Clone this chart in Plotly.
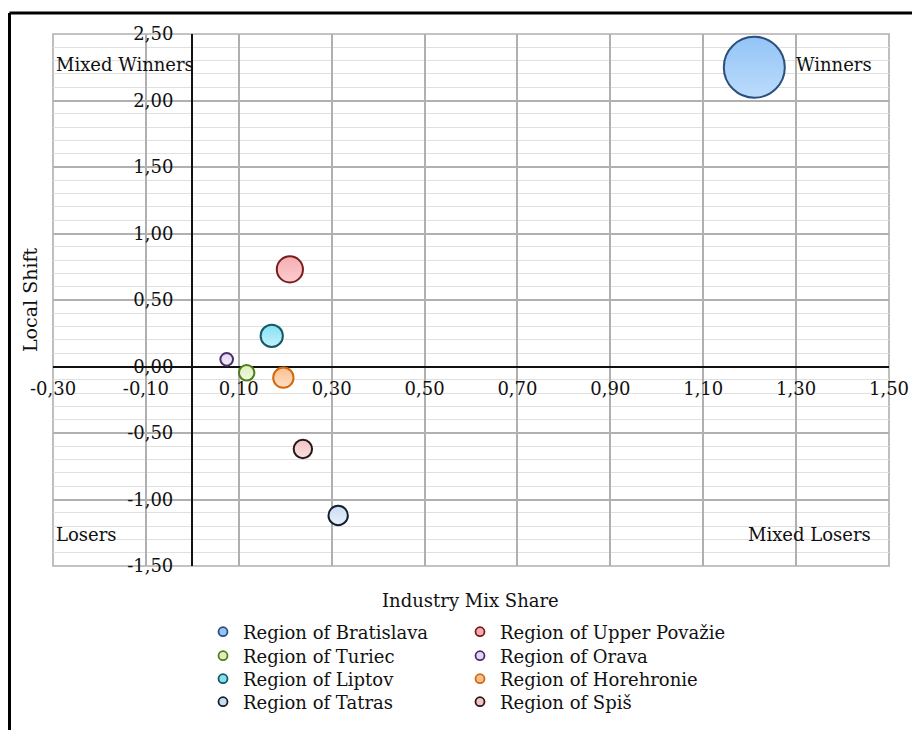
import plotly.graph_objects as go

# ---- data ----
regions = ["Region of Bratislava", "Region of Upper Považie", "Region of Turiec",
           "Region of Orava", "Region of Liptov", "Region of Horehronie",
           "Region of Tatras", "Region of Spiš"]
industry_mix = [1.21, 0.21, 0.117, 0.074, 0.171, 0.196, 0.314, 0.238]
local_shift = [2.25, 0.73, -0.047, 0.054, 0.23, -0.084, -1.12, -0.62]
bubble_size = [100, 18.4, 6.4, 4.3, 13.3, 11.1, 10.1, 9.1]

x_tick_vals = [-0.3, -0.1, 0.1, 0.3, 0.5, 0.7, 0.9, 1.1, 1.3, 1.5]
x_tick_text = ["-0,30", "-0,10", "0,10", "0,30", "0,50", "0,70", "0,90", "1,10", "1,30", "1,50"]
y_tick_vals = [2.5, 2.0, 1.5, 1.0, 0.5, 0.0, -0.5, -1.0, -1.5]
y_tick_text = ["2,50", "2,00", "1,50", "1,00", "0,50", "0,00", "-0,50", "-1,00", "-1,50"]

# ---- styles ----
fill_top = ["#93c4f6", "#f5aeb1", "#dcefbd", "#e6d6ee", "#86e0f2", "#fcbf8e", "#cbddf2", "#f3c4c5"]
fill_bot = ["#bcdcfc", "#fccdd0", "#f0fadf", "#f3ecf8", "#c2f2fb", "#fee0c4", "#e6f0fb", "#fae0e0"]
outline = ["#2b4f7e", "#7a1c1c", "#4f7f1a", "#4a2e6e", "#125a66", "#d2680f", "#14202e", "#2a1818"]
# legend slot (column, row) per region, in page pixels
legend_col_x = [203, 460]
legend_row_y = [632, 656, 679, 702]
legend_slot = [(0, 0), (1, 0), (0, 1), (1, 1), (0, 2), (1, 2), (0, 3), (1, 3)]

FONT = "DejaVu Serif"
TXT = "#111111"
MAX_D = 61
sizeref = 2.0 * max(bubble_size) / (MAX_D ** 2)

W, H = 920, 730
OFF = 8  # page offset of the figure inside the browser window
L, R, T, B = 53 - OFF, W - (889 - OFF), 34 - OFF, H - (566 - OFF)
pw, ph = W - L - R, H - T - B

def px_x(p):
    return (p - OFF - L) / pw

def px_y(p):
    return (H - B - (p - OFF)) / ph

def cx(p):
    return (p - OFF) / W

def cy(p):
    return 1 - (p - OFF) / H

fig = go.Figure()
for i, name in enumerate(regions):
    fig.add_trace(go.Scatter(
        x=[industry_mix[i]], y=[local_shift[i]], mode="markers", name=name,
        legendgroup=name, showlegend=False,
        marker=dict(size=[bubble_size[i]], sizemode="area", sizeref=sizeref,
                    color=fill_top[i],
                    gradient=dict(type="vertical", color=fill_bot[i]),
                    line=dict(color=outline[i], width=2), opacity=1),
        hoverinfo="name+x+y",
    ))

tickfont = dict(family=FONT, size=18, color=TXT)
legfont = dict(family=FONT, size=18, color=TXT)

legends = {}
for i, name in enumerate(regions):
    key = "legend" if i == 0 else f"legend{i + 1}"
    fig.add_trace(go.Scatter(
        x=[None], y=[None], mode="markers", name=name, legendgroup=name,
        legend=key, showlegend=True,
        marker=dict(size=9, color=fill_top[i], line=dict(color=outline[i], width=1.8)),
    ))
    c, r = legend_slot[i]
    legends[key] = dict(x=cx(legend_col_x[c]), y=cy(legend_row_y[r] - 18.5),
                        xref="container", yref="container",
                        xanchor="left", yanchor="top", orientation="v",
                        bgcolor="rgba(0,0,0,0)", borderwidth=0, font=legfont)

fig.update_layout(
    width=W, height=H,
    margin=dict(l=L, r=R, t=T, b=B, pad=0, autoexpand=False),
    paper_bgcolor="white", plot_bgcolor="white",
    font=dict(family=FONT, size=18, color=TXT),
    xaxis=dict(range=[-0.3, 1.5], tickmode="array", tickvals=x_tick_vals, ticktext=x_tick_text,
               showgrid=True, gridcolor="#b0b0b0", gridwidth=1.6,
               zeroline=True, zerolinecolor="#111111", zerolinewidth=2,
               showline=False, ticks="", anchor="free", position=1.5 / 4.0,
               tickfont=tickfont, ticklabelstandoff=9, fixedrange=True, automargin=False),
    yaxis=dict(range=[-1.5, 2.5], tickmode="array", tickvals=y_tick_vals, ticktext=y_tick_text,
               showgrid=True, gridcolor="#b0b0b0", gridwidth=1.6,
               minor=dict(tickmode="linear", tick0=0, dtick=0.1, showgrid=True,
                          gridcolor="#e0e0e0", gridwidth=1.2),
               zeroline=True, zerolinecolor="#111111", zerolinewidth=2,
               showline=False, ticks="", anchor="free", position=0.3 / 1.8,
               tickfont=tickfont, ticklabelstandoff=19, fixedrange=True, automargin=False),
    showlegend=True,
    **legends,
)

ann_font = dict(family=FONT, size=18, color=TXT)
fig.add_annotation(x=-0.297, y=2.27, xref="x", yref="y", text="Mixed Winners",
                   showarrow=False, xanchor="left", yanchor="middle", font=ann_font)
fig.add_annotation(x=1.296, y=2.27, xref="x", yref="y", text="Winners",
                   showarrow=False, xanchor="left", yanchor="middle", font=ann_font)
fig.add_annotation(x=-0.297, y=-1.26, xref="x", yref="y", text="Losers",
                   showarrow=False, xanchor="left", yanchor="middle", font=ann_font)
fig.add_annotation(x=1.466, y=-1.26, xref="x", yref="y", text="Mixed Losers",
                   showarrow=False, xanchor="right", yanchor="middle", font=ann_font)
fig.add_annotation(x=px_x(30), y=0.5, xref="paper", yref="paper", text="Local Shift",
                   textangle=-90, showarrow=False, xanchor="center", yanchor="middle",
                   font=dict(family=FONT, size=19, color=TXT))
fig.add_annotation(x=px_x(470), y=px_y(600), xref="paper", yref="paper",
                   text="Industry Mix Share", showarrow=False, xanchor="center",
                   yanchor="middle", font=ann_font)

# plot-area border
fig.add_shape(type="rect", xref="paper", yref="paper", x0=0, y0=0, x1=1, y1=1,
              line=dict(color="#b0b0b0", width=1.6), layer="below")
# outer frame (top and left black lines)
fig.add_shape(type="line", xref="paper", yref="paper", x0=px_x(9.5), x1=px_x(935),
              y0=px_y(13), y1=px_y(13), line=dict(color="black", width=3))
fig.add_shape(type="line", xref="paper", yref="paper", x0=px_x(9.5), x1=px_x(9.5),
              y0=px_y(13), y1=px_y(745), line=dict(color="black", width=3))

fig.write_html("out.html")
